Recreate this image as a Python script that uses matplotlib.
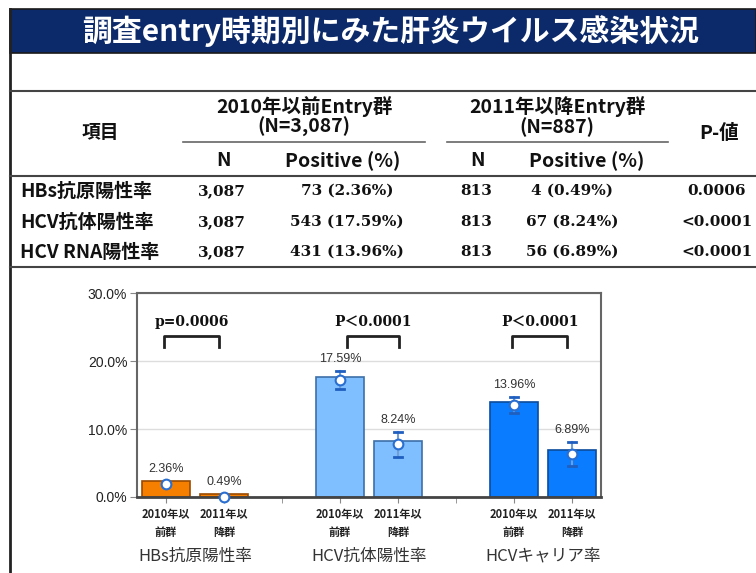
import matplotlib
matplotlib.use("Agg")
import matplotlib.pyplot as plt
from matplotlib.lines import Line2D
from matplotlib.patches import Rectangle
from matplotlib.transforms import blended_transform_factory

plt.rcParams["font.family"] = ["Noto Sans CJK JP", "DejaVu Sans"]

W, H = 756, 573

# ---- slide / table data ----
title = "調査entry時期別にみた肝炎ウイルス感染状況"
item_header = "項目"
p_header = "P-値"
group_headers = [("2010年以前Entry群", "(N=3,087)"), ("2011年以降Entry群", "(N=887)")]
sub_headers = ["N", "Positive (%)"]
items = ["HBs抗原陽性率", "HCV抗体陽性率", "HCV RNA陽性率"]
n_before = ["3,087", "3,087", "3,087"]
pos_before = ["73 (2.36%)", "543 (17.59%)", "431 (13.96%)"]
n_after = ["813", "813", "813"]
pos_after = ["4 (0.49%)", "67 (8.24%)", "56 (6.89%)"]
p_values = ["0.0006", "<0.0001", "<0.0001"]

# ---- chart data ----
chart_groups = ["HBs抗原陽性率", "HCV抗体陽性率", "HCVキャリア率"]
period_labels = ["2010年以\n前群", "2011年以\n降群"]
rate_before = [2.36, 17.59, 13.96]
rate_after = [0.49, 8.24, 6.89]
ci_before_low = [1.9, 15.9, 12.3]
ci_before_high = [1.9, 18.6, 14.75]
ci_after_low = [0.0, 5.9, 4.6]
ci_after_high = [0.0, 9.6, 8.1]
p_labels = ["p=0.0006", "P＜0.0001", "P＜0.0001"]
y_ticks = [0, 10, 20, 30]

bar_colors = ["#f77f00", "#80bfff", "#0a7cff"]
edge_colors = ["#9a4a00", "#3d6fa8", "#0a4c9c"]


def fx(px):
    return px / W


def fy(py):
    return 1 - py / H


def hline(fig, x0, x1, y, lw=1.5, color="#444444"):
    fig.add_artist(Line2D([fx(x0), fx(x1)], [fy(y), fy(y)], color=color, lw=lw))


fig = plt.figure(figsize=(W / 100, H / 100), dpi=100)
fig.patch.set_facecolor("white")

# title bar and slide border
fig.add_artist(Rectangle((fx(10), fy(53)), fx(W - 10), 44 / H, facecolor="#0c2a6a",
                         edgecolor="#1a1a1a", lw=1.2))
fig.add_artist(Line2D([fx(10), fx(10)], [fy(9), 0], color="#222222", lw=2))
fig.text(fx(391), fy(31), title, color="white", fontsize=21.5, fontweight="bold",
         ha="center", va="center")

# ---- table ----
hline(fig, 10, W, 91)
hline(fig, 10, W, 176)
hline(fig, 10, W, 267)
hline(fig, 183, 425, 142, lw=1.2, color="#666666")
hline(fig, 447, 668, 142, lw=1.2, color="#666666")

head_kw = dict(ha="center", va="center", color="#111111", fontsize=14,
               fontweight="bold")
fig.text(fx(100), fy(133), item_header, **{**head_kw, "fontsize": 13.5})
fig.text(fx(719), fy(133), p_header, **head_kw)
for cx, (line1, line2) in zip([304, 557], group_headers):
    fig.text(fx(cx), fy(107), line1, **head_kw)
    fig.text(fx(cx), fy(127), line2, **head_kw)
for nx, px in [(224, 343), (477, 587)]:
    fig.text(fx(nx), fy(161), sub_headers[0], **head_kw)
    fig.text(fx(px), fy(161), sub_headers[1], **head_kw)

serif_kw = dict(ha="center", va="center", color="#111111", fontsize=11,
                family="DejaVu Serif", fontweight="bold")
for i, ry in enumerate([191, 222, 252]):
    fig.text(fx(20), fy(ry), items[i], ha="left", va="center", fontsize=13.7,
             fontweight="bold", color="#111111")
    fig.text(fx(222), fy(ry), n_before[i], **serif_kw)
    fig.text(fx(347), fy(ry), pos_before[i], **serif_kw)
    fig.text(fx(476), fy(ry), n_after[i], **serif_kw)
    fig.text(fx(572), fy(ry), pos_after[i], **serif_kw)
    fig.text(fx(717), fy(ry), p_values[i], **serif_kw)

# ---- bar chart ----
ax = fig.add_axes([fx(137), fy(497), 464 / W, 204 / H])
centers = [0, 3, 6]
width = 0.84
for g, c in enumerate(centers):
    xs = [c, c + 1]
    vals = [rate_before[g], rate_after[g]]
    lows = [ci_before_low[g], ci_after_low[g]]
    highs = [ci_before_high[g], ci_after_high[g]]
    ax.bar(xs, vals, width=width, color=bar_colors[g], edgecolor=edge_colors[g],
           lw=1.2, zorder=2)
    for x, v, lo, hi in zip(xs, vals, lows, highs):
        mid = (lo + hi) / 2
        if hi > lo:
            ax.plot([x, x], [lo, hi], color="#6f9fd6", lw=1.5, zorder=3)
            ax.plot([x - 0.07, x + 0.07], [hi, hi], color="#1f5fbf", lw=2, zorder=3)
            ax.plot([x - 0.07, x + 0.07], [lo, lo], color="#1f5fbf", lw=2, zorder=3)
        ax.plot(x, mid, "o", ms=7, mfc="white", mec="#2a6fd0", mew=1.5, zorder=4,
                clip_on=False)
        ax.annotate(f"{v:.2f}%", (x, max(v, hi)), xytext=(0, 4),
                    textcoords="offset points", ha="center", va="bottom",
                    fontsize=9, color="#333333", family="Liberation Sans")
    # significance bracket
    x0, x1 = c + (0.12 if g == 1 else -0.03), c + (1.02 if g == 1 else 0.92)
    ax.plot([x0, x0, x1, x1], [22.1, 23.7, 23.7, 22.1], color="#222222", lw=2,
            solid_joinstyle="round", zorder=3)
    ax.text((x0 + x1) / 2, 25.8, p_labels[g], ha="center", va="center",
            fontsize=10, fontweight="bold", color="#111111",
            family=["DejaVu Serif", "Noto Sans CJK JP"])

ax.set_xlim(-0.5, 7.5)
ax.set_ylim(0, 30)
ax.set_yticks(y_ticks)
ax.set_yticklabels([f"{v:.1f}%" for v in y_ticks], family="Liberation Sans",
                   fontsize=10, color="#222222")
ax.set_xticks([c + k for c in centers for k in (0, 1)])
ax.set_xticklabels(period_labels * 3, fontsize=8, fontweight="bold",
                   linespacing=1.45, color="#222222")
ax.set_xticks([2, 5], minor=True)
ax.tick_params(axis="x", which="both", length=4, color="#888888", pad=4)
ax.tick_params(axis="y", length=5, color="#888888", pad=2)
ax.yaxis.grid(True, color="#dddddd", lw=1)
ax.set_axisbelow(True)
for side in ["top", "right", "left"]:
    ax.spines[side].set_color("#666666")
    ax.spines[side].set_linewidth(1.5)
ax.spines["bottom"].set_color("#444444")
ax.spines["bottom"].set_linewidth(2)

trans = blended_transform_factory(ax.transData, ax.transAxes)
for c, name in zip(centers, chart_groups):
    ax.text(c + 0.5, -0.29, name, transform=trans, ha="center", va="center",
            fontsize=12, color="#333333")

fig.savefig("out.png", dpi=100)
